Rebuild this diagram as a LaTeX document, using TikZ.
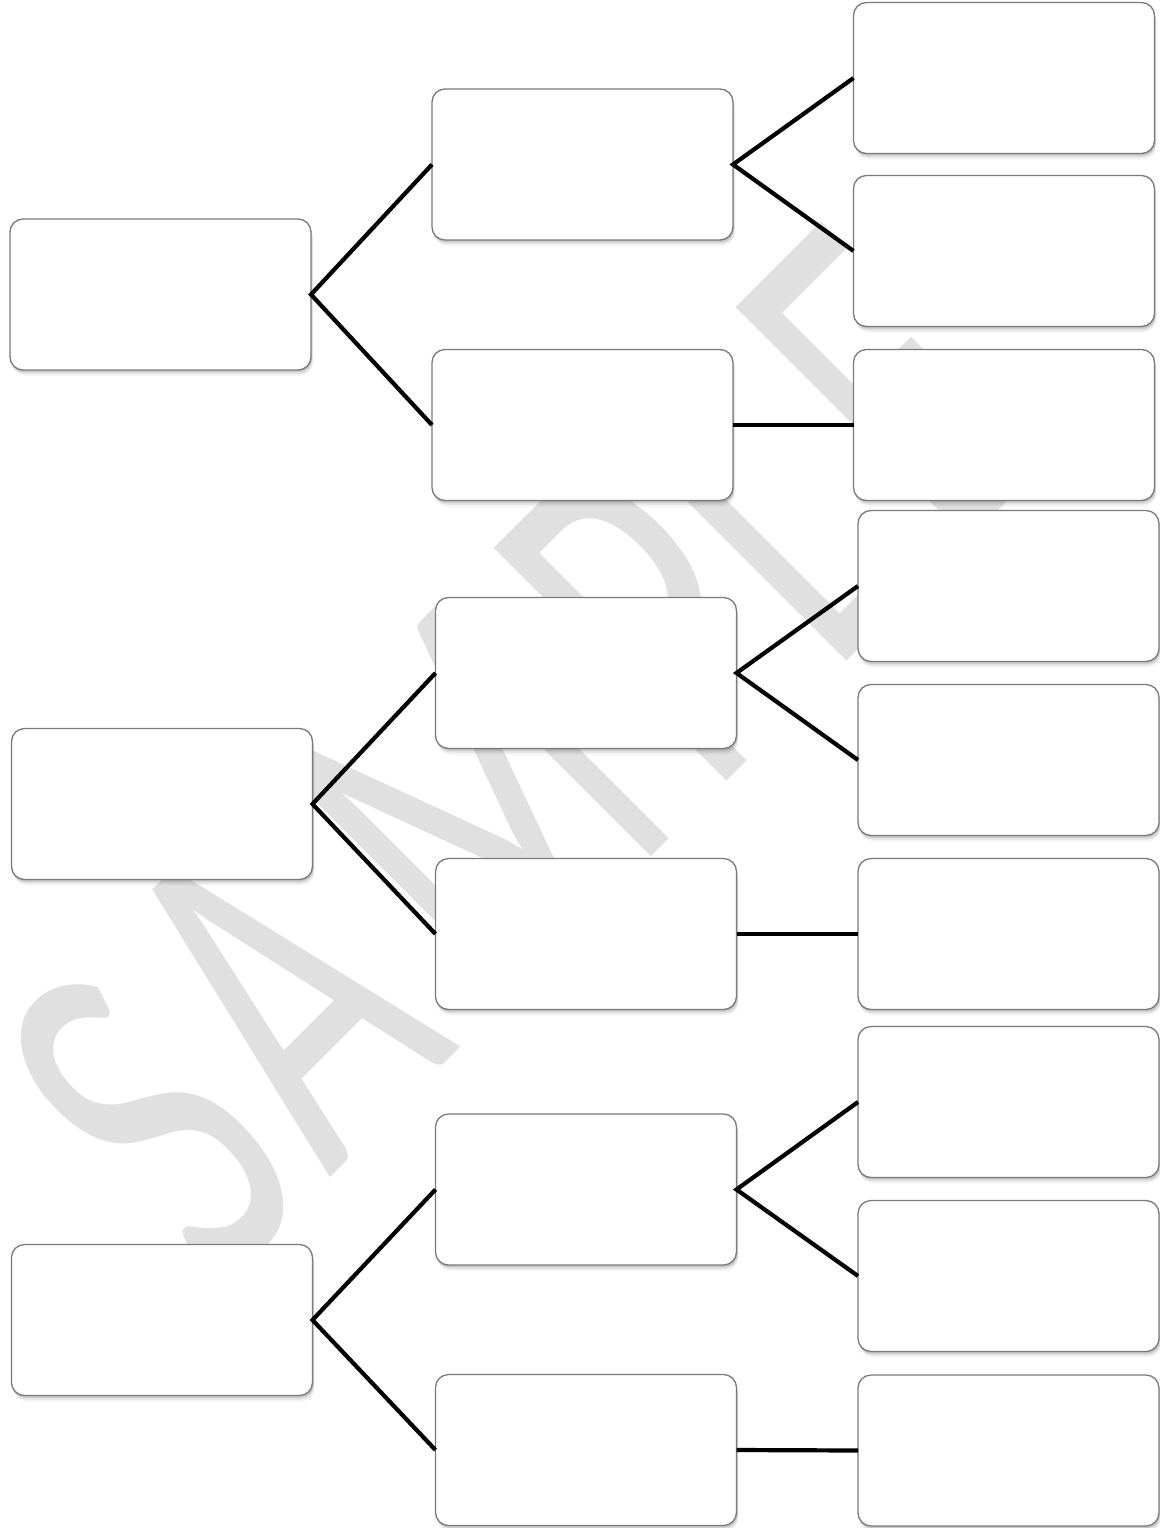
\documentclass[tikz,border=0pt]{standalone}
\usepackage{fontspec}
\newfontfamily\wmfont{Carlito}
\usetikzlibrary{shadows}
\definecolor{wmgray}{RGB}{224,224,224}
\definecolor{boxline}{RGB}{122,122,122}
\tikzset{
  box/.style={rectangle, rounded corners=13pt, draw=boxline, line width=1.3pt,
    fill=white, minimum width=301pt, minimum height=151pt, inner sep=0pt, outer sep=0pt,
    general shadow={fill=black, opacity=0.04, shadow xshift=2pt, shadow yshift=-6pt},
    general shadow={fill=black, opacity=0.08, shadow xshift=1.5pt, shadow yshift=-4pt},
    general shadow={fill=black, opacity=0.12, shadow xshift=1pt, shadow yshift=-2.2pt}},
  link/.style={line width=4.2pt, draw=black},
  wm/.style={anchor=base west, inner sep=0pt, outer sep=0pt, rotate=45, text=wmgray,
    font=\wmfont\fontsize{513pt}{513pt}\selectfont}
}
\newcommand{\wmletter}[1]{\scalebox{0.63}[1]{#1}}
\begin{document}
\begin{tikzpicture}[x=1pt, y=-1pt]
\path[use as bounding box, fill=white] (0,0) rectangle (1159,1528);
% watermark
\node[wm] (wS) at (215.9,1292.1) {\wmletter{S}};
\node[wm] (wA) at (329.7,1178.3) {\wmletter{A}};
\node[wm] (wM) at (492.4,1015.6) {\wmletter{M}};
\node[wm] (wP) at (710.2,797.8) {\wmletter{P}};
\node[wm] (wL) at (831.8,676.2) {\wmletter{L}};
\node[wm] (wE) at (952,556) {\wmletter{E}};
% group 1
\node[box] (a1) at (160.5,294.5) {};
\node[box] (a2) at (582.5,164.5) {};
\node[box] (a3) at (582.5,425) {};
\node[box] (a4) at (1004,78) {};
\node[box] (a5) at (1004,251) {};
\node[box] (a6) at (1004,425) {};
% group 2
\node[box] (b1) at (162,804) {};
\node[box] (b2) at (586,673) {};
\node[box] (b3) at (586,934) {};
\node[box] (b4) at (1008.5,586) {};
\node[box] (b5) at (1008.5,760) {};
\node[box] (b6) at (1008.5,934) {};
% group 3
\node[box] (c1) at (162,1320) {};
\node[box] (c2) at (586,1189.5) {};
\node[box] (c3) at (586,1450) {};
\node[box] (c4) at (1008.5,1102) {};
\node[box] (c5) at (1008.5,1276) {};
\node[box] (c6) at (1008.5,1450.5) {};
% connectors
\foreach \g in {a,b,c}{
  \draw[link] (\g2.west) -- (\g1.east) -- (\g3.west);
  \draw[link] (\g4.west) -- (\g2.east) -- (\g5.west);
  \draw[link] (\g3.east) -- (\g6.west);
}
\end{tikzpicture}
\end{document}
